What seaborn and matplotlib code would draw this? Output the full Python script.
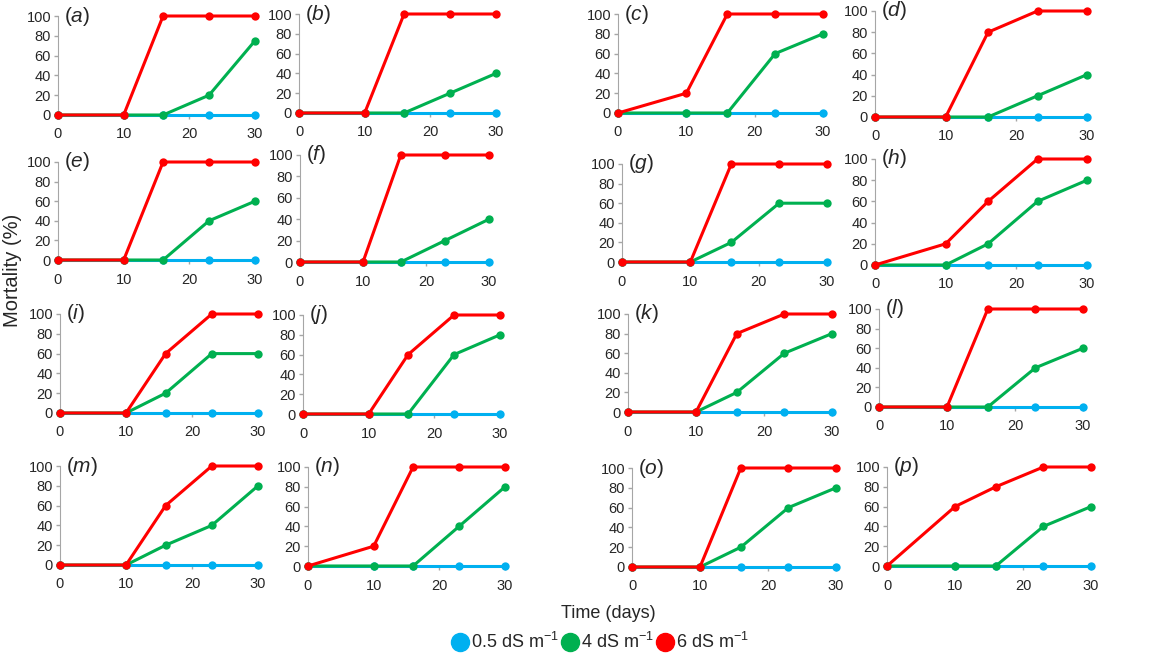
import pandas as pd
import numpy as np
import matplotlib
matplotlib.use("Agg")
import matplotlib.pyplot as plt
import seaborn as sns
from matplotlib.lines import Line2D

sns.set_style("ticks")
plt.rcParams["font.family"] = ["Liberation Sans", "DejaVu Sans"]
plt.rcParams["mathtext.fontset"] = "custom"
plt.rcParams["mathtext.rm"] = "Liberation Sans"
plt.rcParams["mathtext.it"] = "Liberation Sans:italic"

days = [0, 10, 16, 23, 30]
panels = list("abcdefghijklmnop")
levels = ["0.5 dS m$^{-1}$", "4 dS m$^{-1}$", "6 dS m$^{-1}$"]
colors = ["#00B0F0", "#00B050", "#FF0000"]

low = {p: [0, 0, 0, 0, 0] for p in panels}
mid = {
    "a": [0, 0, 0, 20, 75], "b": [0, 0, 0, 20, 40],
    "c": [0, 0, 0, 60, 80], "d": [0, 0, 0, 20, 40],
    "e": [0, 0, 0, 40, 60], "f": [0, 0, 0, 20, 40],
    "g": [0, 0, 20, 60, 60], "h": [0, 0, 20, 60, 80],
    "i": [0, 0, 20, 60, 60], "j": [0, 0, 0, 60, 80],
    "k": [0, 0, 20, 60, 80], "l": [0, 0, 0, 40, 60],
    "m": [0, 0, 20, 40, 80], "n": [0, 0, 0, 40, 80],
    "o": [0, 0, 20, 60, 80], "p": [0, 0, 0, 40, 60],
}
high = {
    "a": [0, 0, 100, 100, 100], "b": [0, 0, 100, 100, 100],
    "c": [0, 20, 100, 100, 100], "d": [0, 0, 80, 100, 100],
    "e": [0, 0, 100, 100, 100], "f": [0, 0, 100, 100, 100],
    "g": [0, 0, 100, 100, 100], "h": [0, 20, 60, 100, 100],
    "i": [0, 0, 60, 100, 100], "j": [0, 0, 60, 100, 100],
    "k": [0, 0, 80, 100, 100], "l": [0, 0, 100, 100, 100],
    "m": [0, 0, 60, 100, 100], "n": [0, 20, 100, 100, 100],
    "o": [0, 0, 100, 100, 100], "p": [0, 60, 80, 100, 100],
}

# panel boxes in pixels: x at day 0, x at day 30, y at 100 %, y at 0 %
boxes = [
    (58, 255, 16, 115), (299, 496, 14, 113), (618, 823, 14, 113), (875, 1087, 11, 117),
    (58, 255, 162, 260), (300, 489, 155, 262), (622, 827, 164, 262), (875, 1087, 159, 265),
    (60, 258, 314, 413), (303, 500, 315, 414), (628, 832, 314, 412), (879, 1083, 309, 407),
    (60, 258, 466, 565), (308, 505, 467, 566), (632, 836, 468, 567), (887, 1091, 467, 566),
]

W, H = 1156, 659
fig = plt.figure(figsize=(W / 100, H / 100), dpi=100)

for p, (x0, x1, y1, y0) in zip(panels, boxes):
    ax = fig.add_axes([x0 / W, 1 - y0 / H, (x1 - x0) / W, (y0 - y1) / H])
    df = pd.DataFrame({
        "day": days * 3,
        "mort": low[p] + mid[p] + high[p],
        "ec": [levels[0]] * 5 + [levels[1]] * 5 + [levels[2]] * 5,
    })
    sns.lineplot(data=df, x="day", y="mort", hue="ec", hue_order=levels,
                 palette=colors, marker="o", markersize=6, markeredgewidth=0,
                 linewidth=2.2, ax=ax, legend=False, clip_on=False, zorder=3)
    ax.set_xlim(0, 30)
    ax.set_ylim(0, 100)
    ax.set_xticks([0, 10, 20, 30])
    ax.set_yticks([0, 20, 40, 60, 80, 100])
    ax.set_xlabel("")
    ax.set_ylabel("")
    ax.tick_params(labelsize=10.5, color="#A6A6A6", length=3, width=1, pad=2)
    ax.tick_params(axis="x", pad=6)
    for s in ["top", "right"]:
        ax.spines[s].set_visible(False)
    for s in ["left", "bottom"]:
        ax.spines[s].set_color("#A6A6A6")
    ax.text(0.03, 1.0, "(" + r"$\mathit{" + p + "}$" + ")", transform=ax.transAxes,
            fontsize=15, va="center", ha="left")

fig.text(13 / W, 1 - 270 / H, "Mortality (%)", rotation=90, fontsize=14.5,
         va="center", ha="center")
fig.text(608 / W, 1 - 613 / H, "Time (days)", fontsize=13, va="center", ha="center")

handles = [Line2D([], [], marker="o", color=c, linestyle="none", markersize=13)
           for c in colors]
fig.legend(handles, levels, loc="center", bbox_to_anchor=(600 / W, 1 - 642 / H),
           ncol=3, frameon=False, fontsize=13, handletextpad=0.1,
           columnspacing=0.1, handlelength=1.0, borderpad=0)

fig.savefig("out.png", dpi=100)
